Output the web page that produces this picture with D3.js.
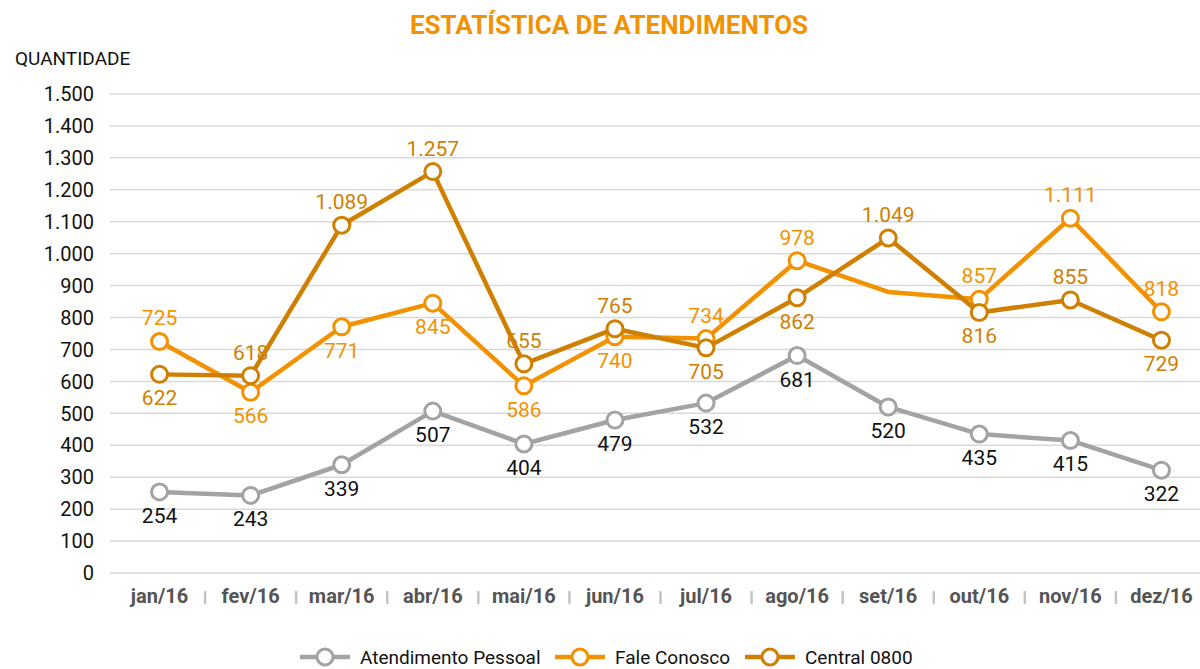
<!DOCTYPE html>
<html>
<head>
<meta charset="utf-8">
<script src="https://cdn.jsdelivr.net/npm/d3@7"></script>
<style>
  body { margin: 0; background: #fff; }
  svg text { font-family: Roboto, "Noto Sans", sans-serif; }
</style>
</head>
<body>
<div id="chart"></div>
<script>
// data
var months = ["jan/16","fev/16","mar/16","abr/16","mai/16","jun/16","jul/16","ago/16","set/16","out/16","nov/16","dez/16"];
var pessoal = [254, 243, 339, 507, 404, 479, 532, 681, 520, 435, 415, 322];
var fale = [725, 566, 771, 845, 586, 740, 734, 978, 880, 857, 1111, 818];
var central = [622, 618, 1089, 1257, 655, 765, 705, 862, 1049, 816, 855, 729];
var yTicks = [0,100,200,300,400,500,600,700,800,900,1000,1100,1200,1300,1400,1500];

// label placement (1 = above, -1 = below, 0 = no marker/label)
var pessoalPos = [-1,-1,-1,-1,-1,-1,-1,-1,-1,-1,-1,-1];
var falePos = [1,-1,-1,-1,-1,-1,1,1,0,1,1,1];
var centralPos = [-1,1,1,1,1,1,-1,-1,1,-1,1,-1];

var W = 1200, H = 669;
var svg = d3.select("#chart").append("svg").attr("width", W).attr("height", H);

var fmt = d3.formatLocale({decimal: ",", thousands: ".", grouping: [3], currency: ["R$", ""]}).format(",d");

var x = d3.scaleBand().domain(months).range([114, 1207]);
var y = d3.scaleLinear().domain([0, 1500]).range([573, 94]);

svg.append("text")
  .attr("x", 609).attr("y", 34)
  .attr("text-anchor", "middle")
  .style("font-size", "26px").style("font-weight", "bold")
  .style("fill", "#f39200")
  .text("ESTATÍSTICA DE ATENDIMENTOS");

svg.append("text")
  .attr("x", 15).attr("y", 65)
  .style("font-size", "19px").style("fill", "#111")
  .text("QUANTIDADE");

// grid
svg.append("g").selectAll("line").data(yTicks).join("line")
  .attr("x1", 110).attr("x2", 1200)
  .attr("y1", d => y(d)).attr("y2", d => y(d))
  .attr("stroke", "#d9d9d9").attr("stroke-width", 1.5);

// y axis labels
svg.append("g").selectAll("text").data(yTicks).join("text")
  .attr("x", 94).attr("y", d => y(d)).attr("dy", "0.36em")
  .attr("text-anchor", "end")
  .style("font-size", "20px").style("fill", "#111")
  .text(d => fmt(d));

// x axis
var xAxis = svg.append("g").attr("transform", "translate(0,573)")
  .call(d3.axisBottom(x).tickSize(0).tickPadding(16));
xAxis.select(".domain").remove();
xAxis.selectAll("text")
  .style("font-family", "Roboto, sans-serif")
  .style("font-size", "20px").style("font-weight", "bold").style("fill", "#555");

svg.append("g").selectAll("line").data(months.slice(1)).join("line")
  .attr("x1", d => x(d)).attr("x2", d => x(d))
  .attr("y1", 591).attr("y2", 604)
  .attr("stroke", "#c4c4c4").attr("stroke-width", 2.5);

var series = [
  {name: "Atendimento Pessoal", values: pessoal, pos: pessoalPos, color: "#a3a3a3", labelColor: "#111"},
  {name: "Fale Conosco", values: fale, pos: falePos, color: "#f39200", labelColor: "#f39200"},
  {name: "Central 0800", values: central, pos: centralPos, color: "#d08000", labelColor: "#d08000"}
];

var line = d3.line()
  .x((d, i) => x(months[i]) + x.bandwidth() / 2)
  .y(d => y(d));

series.forEach(function(s) {
  var g = svg.append("g");
  g.append("path")
    .datum(s.values)
    .attr("fill", "none")
    .attr("stroke", s.color)
    .attr("stroke-width", 4.5)
    .attr("stroke-linejoin", "round")
    .attr("d", line);

  var pts = s.values.map((v, i) => ({v: v, i: i, p: s.pos[i]})).filter(d => d.p !== 0);

  g.selectAll("circle").data(pts).join("circle")
    .attr("cx", d => x(months[d.i]) + x.bandwidth() / 2)
    .attr("cy", d => y(d.v))
    .attr("r", 8)
    .attr("fill", "#fff")
    .attr("stroke", s.color)
    .attr("stroke-width", 3);

  g.selectAll("text").data(pts).join("text")
    .attr("x", d => x(months[d.i]) + x.bandwidth() / 2)
    .attr("y", d => y(d.v) + (d.p > 0 ? -16 : 31))
    .attr("text-anchor", "middle")
    .style("font-size", "21px")
    .style("fill", s.labelColor)
    .text(d => fmt(d.v));
});

// legend
var legX = [300, 555, 745];
series.forEach(function(s, i) {
  var lg = svg.append("g").attr("transform", "translate(" + legX[i] + ",657)");
  lg.append("line").attr("x1", 0).attr("x2", 50).attr("y1", 0).attr("y2", 0)
    .attr("stroke", s.color).attr("stroke-width", 4.5);
  lg.append("circle").attr("cx", 25).attr("cy", 0).attr("r", 8)
    .attr("fill", "#fff").attr("stroke", s.color).attr("stroke-width", 3);
  lg.append("text").attr("x", 60).attr("y", 0).attr("dy", "0.36em")
    .style("font-size", "19px").style("fill", "#111")
    .text(s.name);
});
</script>
</body>
</html>
